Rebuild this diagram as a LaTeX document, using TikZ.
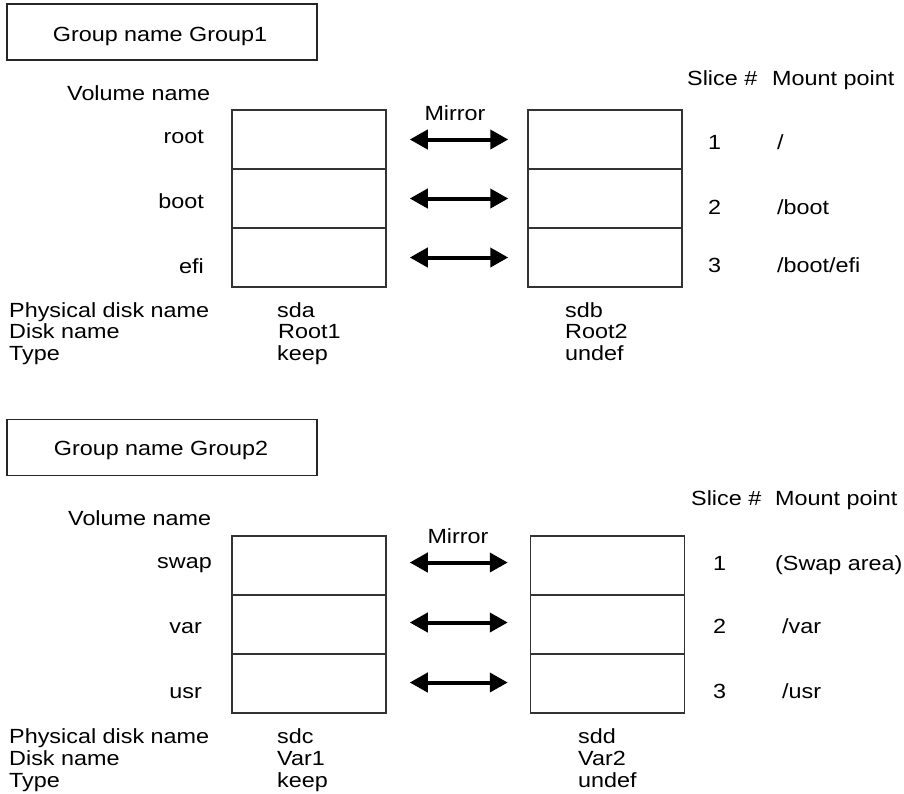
\documentclass[tikz,border=0pt]{standalone}
\usepackage{fontspec}
\setmainfont{Liberation Sans}
\usetikzlibrary{arrows.meta}
\newcommand{\wide}[1]{\scalebox{1.14}[1]{#1}}
\tikzset{
  lbl/.style={font=\fontsize{20.5}{22}\selectfont, inner sep=0pt, anchor=base west, text=black},
  rlbl/.style={lbl, anchor=base east},
  clbl/.style={lbl, anchor=base},
  groupbox/.style={draw=black!85, line width=1.5pt, minimum width=310pt, minimum height=56pt, inner sep=0pt},
  cell/.style={draw=black!80, line width=1.5pt, minimum width=154pt, minimum height=59pt, inner sep=0pt},
  mirrorarrow/.style={line width=4pt, black, {Triangle[length=18pt,width=19pt]}-{Triangle[length=18pt,width=19pt]}}
}
\begin{document}
\begin{tikzpicture}[x=1pt,y=-1pt]
\useasboundingbox (0,0) rectangle (904,793);

% ---------------- Group 1 ----------------
\node[groupbox] (g1) at (162,32) {};
\node[clbl] (g1t) at (160,41) {\wide{Group name Group1}};
\node[lbl] (vn1) at (67,100) {\wide{Volume name}};
\node[rlbl] (v1a) at (204,143) {\wide{root}};
\node[rlbl] (v1b) at (204,208) {\wide{boot}};
\node[rlbl] (v1c) at (204,273) {\wide{efi}};

\node[cell] (L1a) at (309,139.5) {};
\node[cell] (L1b) at (309,198.5) {};
\node[cell] (L1c) at (309,257.5) {};
\node[cell] (R1a) at (605,139.5) {};
\node[cell] (R1b) at (605,198.5) {};
\node[cell] (R1c) at (605,257.5) {};

\node[clbl] (m1) at (455,120) {\wide{Mirror}};
\draw[mirrorarrow] ([xshift=23pt]L1a.east) -- ([xshift=-19pt]R1a.west);
\draw[mirrorarrow] ([xshift=23pt]L1b.east) -- ([xshift=-19pt]R1b.west);
\draw[mirrorarrow] ([xshift=23pt]L1c.east) -- ([xshift=-19pt]R1c.west);

\node[lbl] (s1h) at (687,85) {\wide{Slice \#}};
\node[lbl] (mp1h) at (772,85) {\wide{Mount point}};
\node[lbl] (n1a) at (708,149) {\wide{1}};
\node[lbl] (n1b) at (708,214) {\wide{2}};
\node[lbl] (n1c) at (708,272) {\wide{3}};
\node[lbl] (p1a) at (777,149) {\wide{/}};
\node[lbl] (p1b) at (777,214) {\wide{/boot}};
\node[lbl] (p1c) at (777,272) {\wide{/boot/efi}};

\node[lbl] (h1a) at (9,317) {\wide{Physical disk name}};
\node[lbl] (h1b) at (9,338) {\wide{Disk name}};
\node[lbl] (h1c) at (9,360) {\wide{Type}};
\node[lbl] (d1a) at (277,317) {\wide{sda}};
\node[lbl] (d1b) at (278,338) {\wide{Root1}};
\node[lbl] (d1c) at (277,360) {\wide{keep}};
\node[lbl] (e1a) at (565,317) {\wide{sdb}};
\node[lbl] (e1b) at (565,338) {\wide{Root2}};
\node[lbl] (e1c) at (565,360) {\wide{undef}};

% ---------------- Group 2 ----------------
\node[groupbox] (g2) at (162,447.5) {};
\node[clbl] (g2t) at (161,455) {\wide{Group name Group2}};
\node[lbl] (vn2) at (68,525) {\wide{Volume name}};
\node[rlbl] (v2a) at (212,568) {\wide{swap}};
\node[rlbl] (v2b) at (202,633) {\wide{var}};
\node[rlbl] (v2c) at (202,698) {\wide{usr}};

\node[cell] (L2a) at (309,565.5) {};
\node[cell] (L2b) at (309,624.5) {};
\node[cell] (L2c) at (309,683.5) {};
\node[cell] (R2a) at (607.5,565.5) {};
\node[cell] (R2b) at (607.5,624.5) {};
\node[cell] (R2c) at (607.5,683.5) {};

\node[clbl] (m2) at (458,543) {\wide{Mirror}};
\draw[mirrorarrow] ([xshift=23pt,yshift=3pt]L2a.east) -- ([xshift=-22pt,yshift=3pt]R2a.west);
\draw[mirrorarrow] ([xshift=23pt,yshift=2pt]L2b.east) -- ([xshift=-22pt,yshift=2pt]R2b.west);
\draw[mirrorarrow] ([xshift=23pt,yshift=1pt]L2c.east) -- ([xshift=-22pt,yshift=1pt]R2c.west);

\node[lbl] (s2h) at (691,505) {\wide{Slice \#}};
\node[lbl] (mp2h) at (775,505) {\wide{Mount point}};
\node[lbl] (n2a) at (713,570) {\wide{1}};
\node[lbl] (n2b) at (713,633) {\wide{2}};
\node[lbl] (n2c) at (713,698) {\wide{3}};
\node[lbl] (p2a) at (775,570) {\wide{(Swap area)}};
\node[lbl] (p2b) at (782,633) {\wide{/var}};
\node[lbl] (p2c) at (782,698) {\wide{/usr}};

\node[lbl] (h2a) at (9,743) {\wide{Physical disk name}};
\node[lbl] (h2b) at (9,765) {\wide{Disk name}};
\node[lbl] (h2c) at (9,787) {\wide{Type}};
\node[lbl] (d2a) at (277,743) {\wide{sdc}};
\node[lbl] (d2b) at (277,765) {\wide{Var1}};
\node[lbl] (d2c) at (277,787) {\wide{keep}};
\node[lbl] (e2a) at (578,743) {\wide{sdd}};
\node[lbl] (e2b) at (578,765) {\wide{Var2}};
\node[lbl] (e2c) at (578,787) {\wide{undef}};
\end{tikzpicture}
\end{document}
